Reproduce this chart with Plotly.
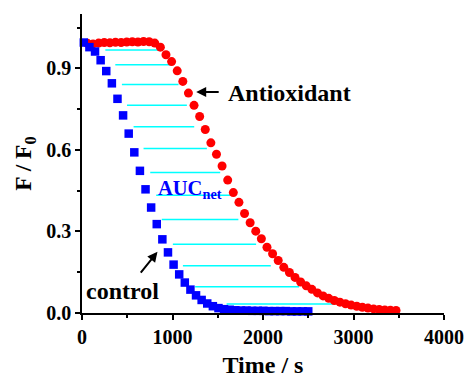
import plotly.graph_objects as go

# ---- data ----
control_t = [20, 82, 144, 206, 268, 330, 392, 454, 516, 578, 640, 702, 764, 826, 888,
             950, 1012, 1074, 1136, 1198, 1260, 1322, 1384, 1446, 1508, 1570, 1632, 1694,
             1756, 1818, 1880, 1942, 2004, 2066, 2128, 2190, 2252, 2314, 2376, 2438, 2500]
control_v = [0.995, 0.978, 0.962, 0.930, 0.890, 0.845, 0.788, 0.727, 0.660, 0.591, 0.523,
             0.455, 0.388, 0.327, 0.271, 0.223, 0.178, 0.142, 0.112, 0.086, 0.065, 0.048,
             0.035, 0.025, 0.018, 0.014, 0.012, 0.010, 0.009, 0.009, 0.008, 0.008, 0.008,
             0.007, 0.007, 0.007, 0.007, 0.006, 0.006, 0.006, 0.006]

antiox_t = [60, 122, 184, 246, 308, 370, 432, 494, 556, 618, 680, 742, 804, 866, 928,
            990, 1052, 1114, 1176, 1238, 1300, 1362, 1424, 1486, 1548, 1610, 1672, 1734,
            1796, 1858, 1920, 1982, 2044, 2106, 2168, 2230, 2292, 2354, 2416, 2478, 2540,
            2602, 2664, 2726, 2788, 2850, 2912, 2974, 3036, 3098, 3160, 3222, 3284, 3346,
            3408, 3470]
antiox_v = [0.992, 0.990, 0.993, 0.995, 0.994, 0.996, 0.995, 0.997, 0.998, 0.997, 0.999,
            0.998, 0.993, 0.978, 0.950, 0.925, 0.891, 0.852, 0.809, 0.764, 0.723, 0.675,
            0.626, 0.584, 0.541, 0.489, 0.443, 0.407, 0.366, 0.332, 0.301, 0.273, 0.242,
            0.218, 0.193, 0.168, 0.149, 0.131, 0.114, 0.100, 0.087, 0.074, 0.063, 0.054,
            0.046, 0.040, 0.034, 0.029, 0.025, 0.021, 0.018, 0.015, 0.013, 0.011, 0.010,
            0.009]

# horizontal AUC fill lines (level, start time, end time)
auc_y = [0.968, 0.913, 0.841, 0.764, 0.685, 0.605, 0.517, 0.433, 0.344, 0.253, 0.174, 0.097, 0.033]
auc_x0 = [258, 368, 441, 497, 570, 680, 754, 820, 881, 1004, 1115, 1250, 1598]
auc_x1 = [846, 982, 1066, 1159, 1240, 1380, 1527, 1673, 1728, 1924, 2086, 2398, 2785]

x_ticks = [0, 1000, 2000, 3000, 4000]
y_ticks = [0.0, 0.3, 0.6, 0.9]

FONT = "Liberation Serif, Times New Roman, serif"

lx, ly = [], []
for y0, a, b in zip(auc_y, auc_x0, auc_x1):
    lx += [a, b, None]
    ly += [y0, y0, None]

fig = go.Figure()
fig.add_trace(go.Scatter(x=lx, y=ly, mode="lines",
                         line=dict(color="#00FFFF", width=1.5), hoverinfo="skip"))
fig.add_trace(go.Scatter(x=antiox_t, y=antiox_v, mode="markers",
                         marker=dict(symbol="circle", size=9, color="#FF0000", line=dict(width=0)),
                         cliponaxis=False))
fig.add_trace(go.Scatter(x=control_t, y=control_v, mode="markers",
                         marker=dict(symbol="square", size=8.5, color="#0000FF", line=dict(width=0)),
                         cliponaxis=False))

axis_common = dict(showline=True, linecolor="black", linewidth=1.5, showgrid=False,
                   zeroline=False, ticks="outside", ticklen=5, tickwidth=1.5, tickcolor="black",
                   automargin=False,
                   tickfont=dict(family=FONT, size=20, color="black"))

fig.update_xaxes(range=[0, 4000], tickvals=x_ticks, ticktext=[f"<b>{v}</b>" for v in x_ticks],
                 minor=dict(dtick=500, tick0=0, ticklen=3, tickwidth=1.5, tickcolor="black", ticks="outside"),
                 title=dict(text="<b>Time / s</b>", font=dict(family=FONT, size=24, color="black"),
                            standoff=13),
                 **axis_common)
fig.update_yaxes(range=[0, 1.1], tickvals=y_ticks, ticktext=[f"<b>{v:.1f}</b>" for v in y_ticks],
                 minor=dict(dtick=0.15, tick0=0.15, ticklen=3, tickwidth=1.5, tickcolor="black", ticks="outside"),
                 title=dict(text="<b>F / F<sub>0</sub></b>", font=dict(family=FONT, size=23.5, color="black"),
                            standoff=8),
                 **axis_common)

ann_font = dict(family=FONT, size=24, color="black")
fig.add_annotation(x=1590, y=0.81, text="<b>Antioxidant</b>", showarrow=False,
                   xanchor="left", yanchor="middle", font=ann_font)
fig.add_annotation(x=22, y=0.08, text="<b>control</b>", showarrow=False,
                   xanchor="left", yanchor="middle", font=ann_font)
fig.add_annotation(x=815, y=0.455, text="<b>AUC<sub>net</sub></b>", showarrow=False,
                   xanchor="left", yanchor="middle",
                   font=dict(family=FONT, size=20.5, color="#0000FF"))
# arrows
fig.add_annotation(x=1262, y=0.813, ax=1527, ay=0.813, xref="x", yref="y", axref="x", ayref="y",
                   text="", showarrow=True, arrowhead=2, arrowsize=1, arrowwidth=2, arrowcolor="black")
fig.add_annotation(x=834, y=0.225, ax=636, ay=0.143, xref="x", yref="y", axref="x", ayref="y",
                   text="", showarrow=True, arrowhead=2, arrowsize=1, arrowwidth=2, arrowcolor="black")

fig.update_layout(width=466, height=378, margin=dict(l=82, r=22, t=14, b=65),
                  paper_bgcolor="white", plot_bgcolor="white", showlegend=False)

fig.write_html("out.html")
